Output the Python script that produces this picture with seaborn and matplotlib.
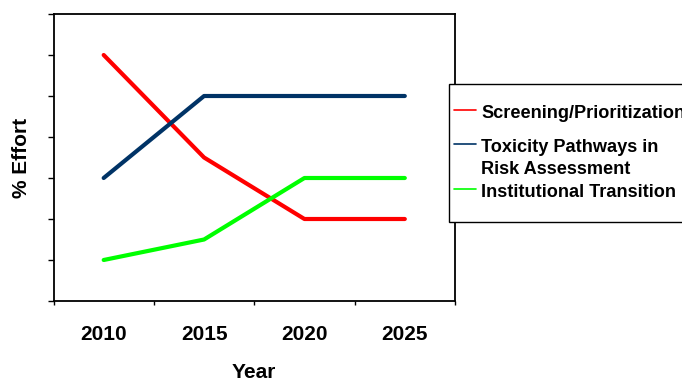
import matplotlib
matplotlib.use("Agg")
import matplotlib.pyplot as plt
from matplotlib.lines import Line2D
from matplotlib.patches import Rectangle
import numpy as np
import pandas as pd
import seaborn as sns

# --- data -------------------------------------------------------------
years = [2010, 2015, 2020, 2025]
screening = [60, 35, 20, 20]
toxicity = [30, 50, 50, 50]
institutional = [10, 15, 30, 30]

series_names = ["Screening/Prioritization",
                "Toxicity Pathways in\nRisk Assessment",
                "Institutional Transition"]
series_colors = ["#FF0000", "#003366", "#00FF00"]
y_ticks = [0, 10, 20, 30, 40, 50, 60, 70]

df = pd.DataFrame({
    "Year": years * 3,
    "Effort": screening + toxicity + institutional,
    "Series": [n for n in series_names for _ in years],
})

# --- style ------------------------------------------------------------
sns.set_style("white")
plt.rcParams["font.family"] = ["Liberation Sans", "DejaVu Sans"]
plt.rcParams["font.weight"] = "bold"
plt.rcParams["text.color"] = "black"
plt.rcParams["axes.labelcolor"] = "black"
plt.rcParams["xtick.color"] = "black"
plt.rcParams["ytick.color"] = "black"

W, H = 682, 381
fig = plt.figure(figsize=(W / 100, H / 100), dpi=100)
fig.patch.set_facecolor("white")

ax_l, ax_r, ax_t, ax_b = 53.5, 455, 14, 301
ax = fig.add_axes([ax_l / W, 1 - ax_b / H, (ax_r - ax_l) / W, (ax_b - ax_t) / H])

sns.lineplot(data=df, x="Year", y="Effort", hue="Series",
             hue_order=series_names, palette=series_colors,
             linewidth=3, legend=False, ax=ax,
             solid_capstyle="round", solid_joinstyle="round")

# --- axes -------------------------------------------------------------
ax.set_xlim(years[0] - 2.5, years[-1] + 2.5)
ax.set_ylim(y_ticks[0], y_ticks[-1])

ax.set_xticks(years)
ax.set_xticklabels([str(y) for y in years], fontsize=15, fontweight="bold",
                   color="black")
ax.set_xticks([y - 2.5 for y in years] + [years[-1] + 2.5], minor=True)
ax.tick_params(axis="x", which="major", length=0, pad=17, labelcolor="black")
ax.tick_params(axis="x", which="minor", length=3, width=1, direction="out",
               color="black", bottom=True)

ax.set_yticks(y_ticks)
ax.set_yticklabels([])
ax.tick_params(axis="y", which="major", length=4.5, width=1, direction="out",
               color="black", left=True)

for s in ax.spines.values():
    s.set_visible(True)
    s.set_color("black")
    s.set_linewidth(1.3)

ax.set_xlabel("Year", fontsize=15, fontweight="bold", color="black")
ax.set_ylabel("% Effort", fontsize=15, fontweight="bold", color="black")
ax.xaxis.set_label_coords(0.5, (ax_b - 363) / (ax_b - ax_t))
ax.yaxis.set_label_coords((31 - ax_l) / (ax_r - ax_l), 0.5)

# --- legend box -------------------------------------------------------
def fx(px):
    return px / W

def fy(py):
    return 1 - py / H

box = Rectangle((fx(449), fy(222)), fx(760) - fx(449), fy(84) - fy(222),
                transform=fig.transFigure, facecolor="white",
                edgecolor="black", linewidth=1.0, zorder=5)
fig.patches.append(box)

handle_y = [110, 144, 188.5]
text_baselines = [[117.5], [152.5, 174], [197.3]]
for name, color, hy, bases in zip(series_names, series_colors, handle_y, text_baselines):
    fig.lines.append(Line2D([fx(453.5), fx(475.5)], [fy(hy), fy(hy)],
                            transform=fig.transFigure, color=color,
                            linewidth=1.2, zorder=6))
    for line, by in zip(name.split("\n"), bases):
        fig.text(fx(481), fy(by), line, fontsize=13.1, fontweight="bold",
                 ha="left", va="baseline", color="black", zorder=7)

fig.savefig("out.png", dpi=100)
